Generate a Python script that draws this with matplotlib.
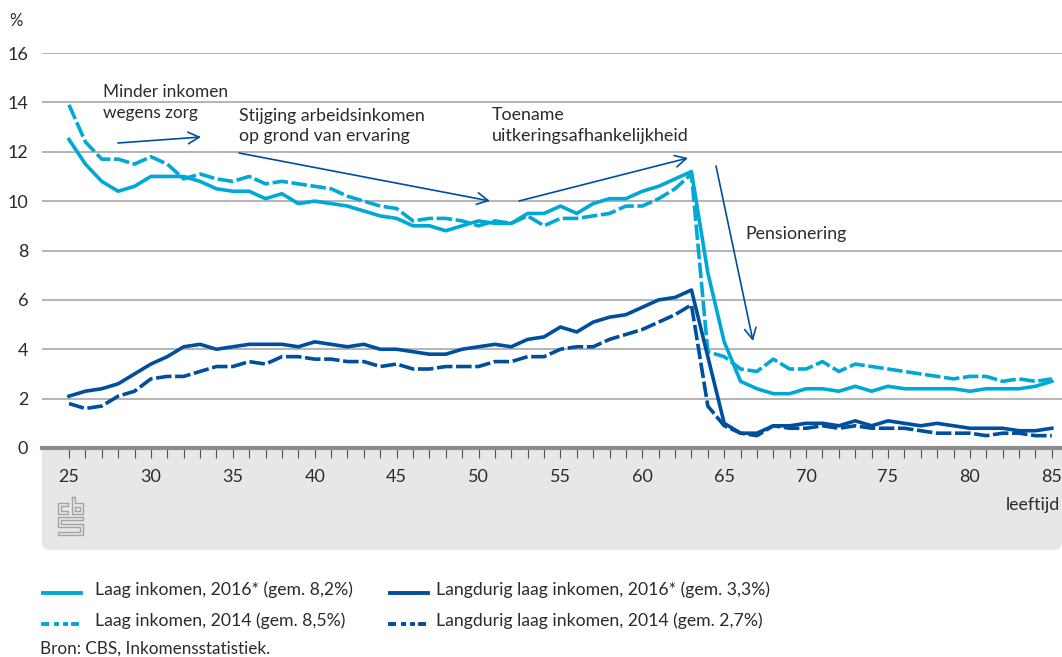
import matplotlib
matplotlib.use("Agg")
import matplotlib.pyplot as plt
from matplotlib.lines import Line2D
from matplotlib.patches import FancyBboxPatch

W, H = 1062, 657
LIGHT = "#00a8d6"
DARK = "#004f9f"
TXT = "#2b2b2b"

plt.rcParams["font.family"] = ["Lato", "DejaVu Sans"]

leeftijd = list(range(25, 86))
laag_2016 = [12.5, 11.5, 10.8, 10.4, 10.6, 11.0, 11.0, 11.0, 10.8, 10.5,
             10.4, 10.4, 10.1, 10.3, 9.9, 10.0, 9.9, 9.8, 9.6, 9.4,
             9.3, 9.0, 9.0, 8.8, 9.0, 9.2, 9.1, 9.1, 9.5, 9.5,
             9.8, 9.5, 9.9, 10.1, 10.1, 10.4, 10.6, 10.9, 11.2, 7.1,
             4.3, 2.7, 2.4, 2.2, 2.2, 2.4, 2.4, 2.3, 2.5, 2.3,
             2.5, 2.4, 2.4, 2.4, 2.4, 2.3, 2.4, 2.4, 2.4, 2.5, 2.7]
laag_2014 = [13.9, 12.4, 11.7, 11.7, 11.5, 11.8, 11.5, 10.9, 11.1, 10.9,
             10.8, 11.0, 10.7, 10.8, 10.7, 10.6, 10.5, 10.2, 10.0, 9.8,
             9.7, 9.2, 9.3, 9.3, 9.2, 9.0, 9.2, 9.1, 9.4, 9.0,
             9.3, 9.3, 9.4, 9.5, 9.8, 9.8, 10.1, 10.5, 11.1, 3.9,
             3.7, 3.2, 3.1, 3.6, 3.2, 3.2, 3.5, 3.1, 3.4, 3.3,
             3.2, 3.1, 3.0, 2.9, 2.8, 2.9, 2.9, 2.7, 2.8, 2.7, 2.8]
lang_2016 = [2.1, 2.3, 2.4, 2.6, 3.0, 3.4, 3.7, 4.1, 4.2, 4.0,
             4.1, 4.2, 4.2, 4.2, 4.1, 4.3, 4.2, 4.1, 4.2, 4.0,
             4.0, 3.9, 3.8, 3.8, 4.0, 4.1, 4.2, 4.1, 4.4, 4.5,
             4.9, 4.7, 5.1, 5.3, 5.4, 5.7, 6.0, 6.1, 6.4, 3.7,
             1.0, 0.6, 0.6, 0.9, 0.9, 1.0, 1.0, 0.9, 1.1, 0.9,
             1.1, 1.0, 0.9, 1.0, 0.9, 0.8, 0.8, 0.8, 0.7, 0.7, 0.8]
lang_2014 = [1.8, 1.6, 1.7, 2.1, 2.3, 2.8, 2.9, 2.9, 3.1, 3.3,
             3.3, 3.5, 3.4, 3.7, 3.7, 3.6, 3.6, 3.5, 3.5, 3.3,
             3.4, 3.2, 3.2, 3.3, 3.3, 3.3, 3.5, 3.5, 3.7, 3.7,
             4.0, 4.1, 4.1, 4.4, 4.6, 4.8, 5.1, 5.4, 5.8, 1.7,
             0.9, 0.6, 0.5, 0.9, 0.8, 0.8, 0.9, 0.8, 0.9, 0.8,
             0.8, 0.8, 0.7, 0.6, 0.6, 0.6, 0.5, 0.6, 0.6, 0.5, 0.5]
y_ticks = [0, 2, 4, 6, 8, 10, 12, 14, 16]
x_labels = [25, 30, 35, 40, 45, 50, 55, 60, 65, 70, 75, 80, 85]


def px(x, y):
    # pixel in the reference -> figure fraction
    return x / W, 1 - y / H


fig = plt.figure(figsize=(W / 100, H / 100), dpi=100)

# grey panel under the axis, the axes cover its upper corners
panel = FancyBboxPatch((42 + 8, H - 550 + 8), 1020 - 16, 120,
                       boxstyle="round,pad=8,rounding_size=8",
                       transform=None, fc="#e7e7e7", ec="none", zorder=0)
fig.add_artist(panel)

ax = fig.add_axes([42 / W, 1 - 448 / H, 1020 / W, 395 / H])
ax.set_zorder(1)
ax.set_xlim(25 - 27 / 16.38, 25 + 993 / 16.38)
ax.set_ylim(0, 16)
for s in ["top", "right", "left"]:
    ax.spines[s].set_visible(False)
ax.spines["bottom"].set_color("#8c8c8c")
ax.spines["bottom"].set_linewidth(3)
ax.yaxis.grid(True, color="#a8a8a8", lw=1.2)
ax.set_axisbelow(True)
ax.set_yticks(y_ticks)
ax.tick_params(axis="y", length=0, labelsize=13, labelcolor=TXT, pad=10)
ax.set_xticks(leeftijd)
ax.set_xticklabels([str(a) if a in x_labels else "" for a in leeftijd])
ax.tick_params(axis="x", length=7, width=0.8, color="#555555", labelsize=13,
               labelcolor=TXT, pad=8)

dash = (0, (4.3, 1.0))
ax.plot(leeftijd, laag_2016, color=LIGHT, lw=2.6, zorder=3, clip_on=False)
ax.plot(leeftijd, laag_2014, color=LIGHT, lw=2.6, ls=dash, zorder=3, clip_on=False)
ax.plot(leeftijd, lang_2016, color=DARK, lw=2.6, zorder=3, clip_on=False)
ax.plot(leeftijd, lang_2014, color=DARK, lw=2.6, ls=dash, zorder=3, clip_on=False)

# annotations with arrows
arrows = [((118, 143), (201, 137)),
          ((239, 153), (490, 201)),
          ((519, 201), (688, 158)),
          ((716, 166), (753, 341))]
for a, b in arrows:
    ax.annotate("", xy=px(*b), xytext=px(*a),
                xycoords="figure fraction", textcoords="figure fraction",
                arrowprops=dict(arrowstyle="->,head_length=0.8,head_width=0.42",
                                color=DARK, lw=1.2, shrinkA=0, shrinkB=0),
                zorder=5)


def txt(x, y, s, size=12.8, ha="left"):
    fx, fy = px(x, y)
    fig.text(fx, fy, s, fontsize=size, color=TXT, va="center", ha=ha, zorder=6)


txt(103, 92, "Minder inkomen", size=12.4)
txt(103, 113, "wegens zorg", size=12.4)
txt(239, 116, "Stijging arbeidsinkomen")
txt(239, 136, "op grond van ervaring")
txt(492, 115, "Toename")
txt(492, 136, "uitkeringsafhankelijkheid", size=13)
txt(745, 234, "Pensionering")
txt(9, 21, "%", size=12)
txt(1060, 505, "leeftijd", ha="right")

# cbs logo, simple outline
logo = [[(68, 503), (58, 503), (58, 514), (68, 514), (68, 511), (61, 511), (61, 506),
         (68, 506), (68, 503)],
        [(72, 497), (75, 497), (75, 503), (83, 503), (83, 514), (72, 514), (72, 497)],
        [(75, 507), (80, 507), (80, 511), (75, 511), (75, 507)],
        [(83, 517), (58, 517), (58, 527), (80, 527), (80, 532), (58, 532), (58, 535),
         (83, 535), (83, 524), (61, 524), (61, 520), (83, 520), (83, 517)]]
for part in logo:
    xs, ys = zip(*[px(*p) for p in part])
    fig.add_artist(Line2D(xs, ys, color="#a3a3a3", lw=1.0, zorder=6))

# legend
legend_dash = (0, (2.06, 1.29, 1.29, 1.03, 1.29, 0.77, 2.06, 10))
legend_rows = [(43, 593, 95, LIGHT, "-", "Laag inkomen, 2016* (gem. 8,2%)"),
               (41, 624, 95, LIGHT, legend_dash, "Laag inkomen, 2014 (gem. 8,5%)"),
               (390, 593, 436, DARK, "-", "Langdurig laag inkomen, 2016* (gem. 3,3%)"),
               (388, 624, 436, DARK, legend_dash, "Langdurig laag inkomen, 2014 (gem. 2,7%)")]
for x, y, xt, col, ls, label in legend_rows:
    (xa, ya), (xb, yb) = px(x, y), px(x + 38, y)
    fig.add_artist(Line2D([xa, xb], [ya, yb], color=col, lw=2.8, ls=ls,
                          dash_capstyle="butt", zorder=6))
    txt(xt, y - 3, label, size=12.7)
txt(40, 649, "Bron: CBS, Inkomensstatistiek.", size=12.3)

fig.savefig("out.png", dpi=100)
